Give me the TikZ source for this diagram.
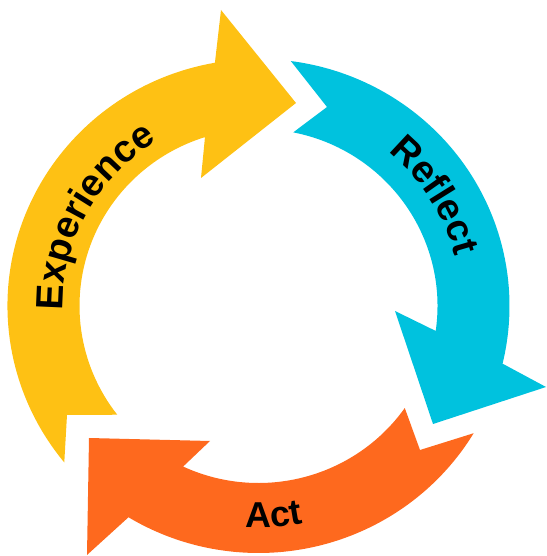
\documentclass[tikz,border=0pt]{standalone}
\usepackage{fontspec}
\setmainfont{Liberation Sans}
\usetikzlibrary{decorations.text}

\definecolor{expyellow}{RGB}{254,193,20}
\definecolor{reflcyan}{RGB}{0,194,222}
\definecolor{actorange}{RGB}{254,105,30}

\tikzset{
  ringlabel/.style n args={2}{
    decorate,
    decoration={text along path, text align=center,
      text={|\fontsize{#1}{#1}\selectfont\bfseries|#2}}
  }
}

\begin{document}
\begin{tikzpicture}[x=0.5pt,y=0.5pt]
\useasboundingbox (0,0) rectangle (546,556);
\begin{scope}[shift={(258.5,250)}]
  % Experience: left band, rising clockwise to the top
  \fill[expyellow] (219.3:251 and 247) -- (-191.5,-109) -- (217.9:179 and 177)
    arc[start angle=217.9, end angle=107.4, x radius=179, y radius=177]
    -- (-57.5,128) -- (37.5,203) -- (-37.5,296) -- (100:251 and 247)
    arc[start angle=100, end angle=219.3, x radius=251, y radius=247] -- cycle;
  % Reflect: right band, descending clockwise
  \fill[reflcyan] (82.6:251 and 247) -- (68.5,199) -- (78.8:179 and 177)
    arc[start angle=78.8, end angle=-8.1, x radius=179, y radius=177]
    -- (136.5,-5) -- (174.5,-118) -- (287.5,-81) -- (-13.5:251 and 247)
    arc[start angle=-13.5, end angle=82.6, x radius=251, y radius=247] -- cycle;
  % Act: bottom band, running right to left
  \fill[actorange] (329:251 and 247) -- (161.5,-144) -- (324.8:179 and 177)
    arc[start angle=324.8, end angle=245.1, x radius=179, y radius=177]
    -- (-48.5,-135) -- (-169.5,-132) -- (-171.5,-249) -- (238.8:251 and 247)
    arc[start angle=238.8, end angle=329, x radius=251, y radius=247] -- cycle;

  % labels set along the bands
  \path[ringlabel={19}{Experience}] (191.3:195.5 and 192.5)
    arc[start angle=191.3, end angle=111.3, x radius=195.5, y radius=192.5];
  \path[ringlabel={19}{Reflect}] (62.3:203 and 200)
    arc[start angle=62.3, end angle=2.3, x radius=203, y radius=200];
  \path[ringlabel={18}{Act}] (244:225 and 222)
    arc[start angle=244, end angle=304, x radius=225, y radius=222];
\end{scope}
\end{tikzpicture}
\end{document}
